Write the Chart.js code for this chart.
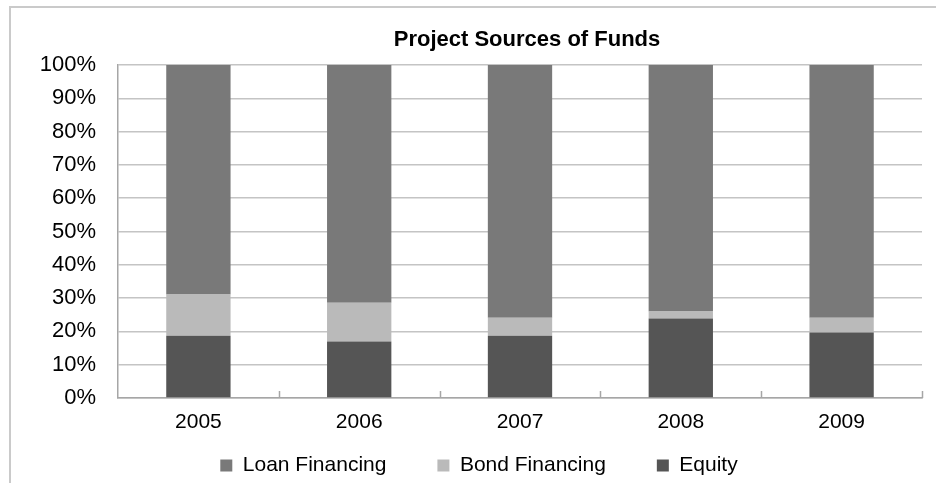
<!DOCTYPE html>
<html>
<head>
<meta charset="utf-8">
<script src="https://cdn.jsdelivr.net/npm/chart.js@4.4.1/dist/chart.umd.min.js"></script>
<style>
  html, body { margin: 0; padding: 0; background: #fff; overflow: hidden; }
  #wrap { position: relative; width: 936px; height: 483px; }
  #frame { position: absolute; left: 9px; top: 6px; width: 1000px; height: 1000px; border: 2px solid #cacaca; }
  #chart { position: absolute; left: 0; top: 0; }
</style>
</head>
<body>
<div id="wrap">
  <div id="frame"></div>
  <canvas id="chart" width="936" height="483"></canvas>
</div>
<script>
// Data (percent of total)
const years = ['2005', '2006', '2007', '2008', '2009'];
const equity = [18.7, 17.0, 18.7, 23.9, 19.7];
const bondFinancing = [12.4, 11.6, 5.4, 2.1, 4.4];
const loanFinancing = [68.9, 71.4, 75.9, 74.0, 75.9];
const yTicks = [0, 10, 20, 30, 40, 50, 60, 70, 80, 90, 100];

const FONT = '"Liberation Sans", Arial, sans-serif';

// Title drawn centred over the plot area
const titlePlugin = {
    id: 'plotTitle',
    afterDraw(chart) {
        const ctx = chart.ctx;
        const area = chart.chartArea;
        ctx.save();
        ctx.font = 'bold 22px ' + FONT;
        ctx.fillStyle = '#000';
        ctx.textAlign = 'center';
        ctx.textBaseline = 'alphabetic';
        ctx.fillText('Project Sources of Funds', (area.left + area.right) / 2 + 7, 46);
        ctx.restore();
    }
};

// Small tick marks between categories, pointing up into the plot
const innerTicks = {
    id: 'innerTicks',
    afterDatasetsDraw(chart) {
        const x = chart.scales.x;
        const ctx = chart.ctx;
        const bottom = chart.chartArea.bottom;
        const step = x.getPixelForValue(1) - x.getPixelForValue(0);
        ctx.save();
        ctx.strokeStyle = '#a6a6a6';
        ctx.lineWidth = 1.5;
        years.forEach((y, i) => {
            const px = Math.round(x.getPixelForValue(i) + step / 2) + 0.5;
            ctx.beginPath();
            ctx.moveTo(px, bottom);
            ctx.lineTo(px, bottom - 7);
            ctx.stroke();
        });
        ctx.restore();
    }
};

const ctx = document.getElementById('chart').getContext('2d');
new Chart(ctx, {
    type: 'bar',
    data: {
        labels: years,
        datasets: [
            { label: 'Loan Financing', data: loanFinancing, backgroundColor: '#797979', order: 3 },
            { label: 'Bond Financing', data: bondFinancing, backgroundColor: '#bababa', order: 2 },
            { label: 'Equity', data: equity, backgroundColor: '#555555', order: 1 }
        ]
    },
    options: {
        responsive: false,
        animation: false,
        layout: { padding: { left: 36, right: 14, top: 65, bottom: -3 } },
        datasets: {
            bar: { barPercentage: 1, categoryPercentage: 0.4 }
        },
        plugins: {
            title: { display: false },
            tooltip: { enabled: false },
            legend: {
                position: 'bottom',
                labels: {
                    boxWidth: 12,
                    boxHeight: 12,
                    padding: 51,
                    color: '#000',
                    font: { family: FONT, size: 21 },
                    sort: (a, b) => a.datasetIndex - b.datasetIndex
                }
            }
        },
        scales: {
            x: {
                stacked: true,
                afterFit(scale) { scale.height = 6; },
                grid: { display: false },
                border: { display: true, color: '#a6a6a6', width: 1.5 },
                ticks: {
                    color: '#000',
                    mirror: true,
                    padding: -37,
                    font: { family: FONT, size: 21 }
                }
            },
            y: {
                stacked: true,
                min: 0,
                max: 100,
                afterFit(scale) { scale.width = 82; },
                afterBuildTicks(scale) { scale.ticks = yTicks.map(v => ({ value: v })); },
                grid: { color: '#c4c4c4', lineWidth: 1.5, drawTicks: false },
                border: { display: true, color: '#a6a6a6', width: 1.5 },
                ticks: {
                    color: '#000',
                    padding: 22,
                    font: { family: FONT, size: 22 },
                    callback: v => v + '%'
                }
            }
        }
    },
    plugins: [titlePlugin, innerTicks]
});
</script>
</body>
</html>
